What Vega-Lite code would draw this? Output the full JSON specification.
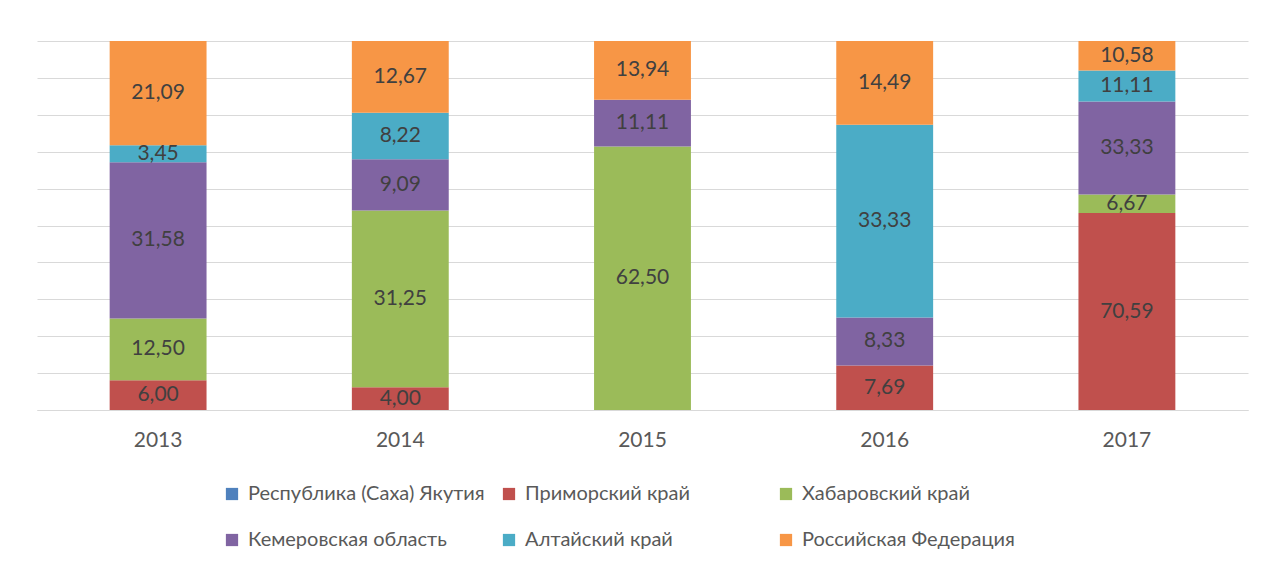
{
  "$schema": "https://vega.github.io/schema/vega-lite/v6.json",
  "autosize": "none",
  "width": 1211,
  "height": 369,
  "padding": {"left": 37, "top": 41, "right": 18, "bottom": 154},
  "background": "white",
  "config": {
    "view": {"stroke": null},
    "font": "Lato",
    "locale": {"number": {"decimal": ",", "thousands": "\u00a0", "grouping": [3], "currency": ["", ""]}}
  },
  "data": {
    "values": [
      {"year": "2013", "region": "Приморский край", "value": 6.00},
      {"year": "2013", "region": "Хабаровский край", "value": 12.50},
      {"year": "2013", "region": "Кемеровская область", "value": 31.58},
      {"year": "2013", "region": "Алтайский край", "value": 3.45},
      {"year": "2013", "region": "Российская Федерация", "value": 21.09},
      {"year": "2014", "region": "Приморский край", "value": 4.00},
      {"year": "2014", "region": "Хабаровский край", "value": 31.25},
      {"year": "2014", "region": "Кемеровская область", "value": 9.09},
      {"year": "2014", "region": "Алтайский край", "value": 8.22},
      {"year": "2014", "region": "Российская Федерация", "value": 12.67},
      {"year": "2015", "region": "Хабаровский край", "value": 62.50},
      {"year": "2015", "region": "Кемеровская область", "value": 11.11},
      {"year": "2015", "region": "Российская Федерация", "value": 13.94},
      {"year": "2016", "region": "Приморский край", "value": 7.69},
      {"year": "2016", "region": "Кемеровская область", "value": 8.33},
      {"year": "2016", "region": "Алтайский край", "value": 33.33},
      {"year": "2016", "region": "Российская Федерация", "value": 14.49},
      {"year": "2017", "region": "Приморский край", "value": 70.59},
      {"year": "2017", "region": "Хабаровский край", "value": 6.67},
      {"year": "2017", "region": "Кемеровская область", "value": 33.33},
      {"year": "2017", "region": "Алтайский край", "value": 11.11},
      {"year": "2017", "region": "Российская Федерация", "value": 10.58}
    ]
  },
  "transform": [
    {"calculate": "indexof(['Республика (Саха) Якутия','Приморский край','Хабаровский край','Кемеровская область','Алтайский край','Российская Федерация'], datum.region)", "as": "ord"},
    {"stack": "value", "groupby": ["year"], "sort": [{"field": "ord", "order": "ascending"}], "offset": "normalize", "as": ["y0", "y1"]},
    {"calculate": "(datum.y0 + datum.y1) / 2", "as": "ymid"}
  ],
  "encoding": {
    "x": {
      "field": "year", "type": "nominal", "title": null,
      "scale": {"paddingInner": 0.6, "paddingOuter": 0.3},
      "axis": {
        "labelAngle": 0, "labelFontSize": 21, "labelColor": "#595959", "labelPadding": 19,
        "ticks": false, "domain": true, "domainColor": "#d9d9d9", "domainWidth": 1
      }
    }
  },
  "layer": [
    {
      "mark": {"type": "bar"},
      "encoding": {
        "y": {
          "field": "y1", "type": "quantitative", "title": null,
          "scale": {"domain": [0, 1], "nice": false},
          "axis": {"values": [0, 0.1, 0.2, 0.3, 0.4, 0.5, 0.6, 0.7, 0.8, 0.9, 1], "labels": false, "ticks": false, "domain": false, "grid": true, "gridColor": "#d9d9d9", "gridWidth": 1}
        },
        "y2": {"field": "y0"},
        "color": {
          "field": "region", "type": "nominal",
          "scale": {
            "domain": ["Республика (Саха) Якутия", "Приморский край", "Хабаровский край", "Кемеровская область", "Алтайский край", "Российская Федерация"],
            "range": ["#4F81BD", "#C0504D", "#9BBB59", "#8064A2", "#4BACC6", "#F79646"]
          },
          "legend": {
            "title": null, "orient": "none", "legendX": 185, "legendY": 443,
            "direction": "horizontal", "columns": 3, "gridAlign": "all", "columnPadding": 14, "rowPadding": 26,
            "symbolType": "square", "symbolSize": 150, "symbolStrokeWidth": 0, "symbolOpacity": 1,
            "labelFontSize": 20, "labelColor": "#595959", "labelOffset": 6, "labelLimit": 400
          }
        }
      }
    },
    {
      "mark": {"type": "text", "fontSize": 21, "color": "#404040", "baseline": "middle", "align": "center"},
      "encoding": {
        "y": {
          "field": "ymid", "type": "quantitative", "title": null,
          "scale": {"domain": [0, 1], "nice": false},
          "axis": {"values": [0, 0.1, 0.2, 0.3, 0.4, 0.5, 0.6, 0.7, 0.8, 0.9, 1], "labels": false, "ticks": false, "domain": false, "grid": true, "gridColor": "#d9d9d9", "gridWidth": 1}
        },
        "text": {"field": "value", "type": "quantitative", "format": ".2f"}
      }
    }
  ]
}
